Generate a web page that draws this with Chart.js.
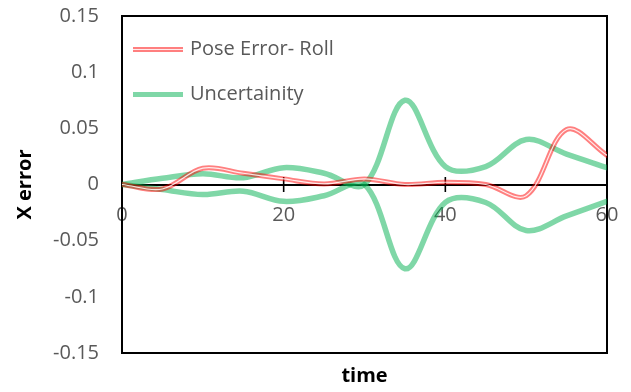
<!DOCTYPE html>
<html>
<head>
<meta charset="utf-8">
<script src="https://cdn.jsdelivr.net/npm/chart.js@4/dist/chart.umd.min.js"></script>
<style>
  html, body { margin: 0; padding: 0; background: #ffffff; }
  #wrap { width: 631px; height: 392px; }
</style>
</head>
<body>
<div id="wrap"><canvas id="chart" width="631" height="392"></canvas></div>
<script>
// Sample times and measured values
const timeSteps = [0, 5, 10, 15, 20, 25, 30, 35, 40, 45, 50, 55, 60];
const poseErrorRoll = [0, -0.004, 0.0145, 0.010, 0.005, 0.0005, 0.005, 0.000, 0.002, 0.000, -0.010, 0.049, 0.026];
const uncertaintyUpper = [0, 0.0055, 0.0095, 0.006, 0.015, 0.010, 0, 0.075, 0.016, 0.016, 0.040, 0.027, 0.015];
const uncertaintyLower = [0, -0.0045, -0.009, -0.006, -0.015, -0.010, 0, -0.075, -0.016, -0.016, -0.041, -0.028, -0.015];

const seriesNames = ['Pose Error- Roll', 'Uncertainity'];
const xTickLabels = ['0', '20', '40', '60'];
const yTickLabels = ['-0.15', '-0.1', '-0.05', '0', '0.05', '0.1', '0.15'];
const xTitle = 'time';
const yTitle = 'X error';

const FONT = '"Open Sans", "DejaVu Sans", sans-serif';
const TEXT_GREY = '#595959';
const RED = 'rgba(255, 0, 0, 0.5)';
const RED_CORE = 'rgba(255, 255, 255, 0.85)';
const GREEN = 'rgba(0, 176, 80, 0.5)';

const toPoints = (ys) => timeSteps.map((t, i) => ({ x: t, y: ys[i] }));

// Plot-area frame and the cross-shaped tick marks on the zero axis
const framePlugin = {
  id: 'frame',
  beforeDatasetsDraw(chart) {
    const { ctx, chartArea: a, scales } = chart;
    ctx.save();
    ctx.strokeStyle = '#000000';
    ctx.lineWidth = 2;
    ctx.strokeRect(a.left, a.top, a.right - a.left, a.bottom - a.top);
    const y0 = scales.y.getPixelForValue(0);
    ctx.lineWidth = 1.6;
    scales.x.ticks.forEach((tk) => {
      const px = scales.x.getPixelForValue(tk.value);
      ctx.beginPath();
      ctx.moveTo(px, y0 - 7.5);
      ctx.lineTo(px, y0 + 7.5);
      ctx.stroke();
    });
    ctx.restore();
  }
};

// Legend drawn inside the plot area, line samples followed by names
const legendPlugin = {
  id: 'insideLegend',
  afterDraw(chart) {
    const { ctx, chartArea: a } = chart;
    const x0 = a.left + 11, x1 = a.left + 61, tx = a.left + 68;
    const rows = [
      { y: a.top + 33.5, name: seriesNames[0], draw: (y) => {
        ctx.strokeStyle = RED; ctx.lineWidth = 5;
        ctx.beginPath(); ctx.moveTo(x0, y); ctx.lineTo(x1, y); ctx.stroke();
        ctx.strokeStyle = RED_CORE; ctx.lineWidth = 1.2;
        ctx.beginPath(); ctx.moveTo(x0, y); ctx.lineTo(x1, y); ctx.stroke();
      } },
      { y: a.top + 78.5, name: seriesNames[1], draw: (y) => {
        ctx.strokeStyle = GREEN; ctx.lineWidth = 5;
        ctx.beginPath(); ctx.moveTo(x0, y); ctx.lineTo(x1, y); ctx.stroke();
      } }
    ];
    ctx.save();
    rows.forEach((r) => {
      r.draw(r.y);
      ctx.fillStyle = TEXT_GREY;
      ctx.font = '20px ' + FONT;
      ctx.textBaseline = 'middle';
      ctx.textAlign = 'left';
      ctx.fillText(r.name, tx, r.y);
    });
    ctx.restore();
  }
};

const lineBase = { pointRadius: 0, pointHoverRadius: 0, fill: false, tension: 0.35, borderCapStyle: 'round', borderJoinStyle: 'round' };

new Chart(document.getElementById('chart'), {
  type: 'line',
  data: {
    datasets: [
      Object.assign({ label: seriesNames[0], data: toPoints(poseErrorRoll), borderColor: RED_CORE, borderWidth: 1.2 }, lineBase),
      Object.assign({ label: seriesNames[0], data: toPoints(poseErrorRoll), borderColor: RED, borderWidth: 5 }, lineBase),
      Object.assign({ label: seriesNames[1], data: toPoints(uncertaintyUpper), borderColor: GREEN, borderWidth: 5.5 }, lineBase),
      Object.assign({ label: seriesNames[1], data: toPoints(uncertaintyLower), borderColor: GREEN, borderWidth: 5.5 }, lineBase)
    ]
  },
  options: {
    responsive: false,
    animation: false,
    devicePixelRatio: 1,
    layout: { padding: { left: 0, right: 24, top: 16, bottom: 0 } },
    plugins: { legend: { display: false }, tooltip: { enabled: false } },
    scales: {
      x: {
        type: 'linear',
        position: { y: 0 },
        min: 0, max: 60,
        // hidden tick marks only provide the label offset below the axis
        grid: { display: false, drawTicks: true, tickLength: 19 },
        border: { display: true, color: '#000000', width: 2 },
        ticks: {
          stepSize: 20, padding: 0, color: TEXT_GREY, maxRotation: 0, autoSkip: false,
          font: { family: FONT, size: 20 },
          callback: (v, i) => xTickLabels[i]
        }
      },
      x2: {
        type: 'linear',
        position: 'bottom',
        min: 0, max: 60,
        grid: { display: false, drawTicks: false },
        border: { display: false },
        ticks: { display: false },
        title: { display: true, text: xTitle, color: '#000000', font: { family: FONT, size: 20, weight: 'bold' }, padding: { top: 0, bottom: 4 } },
        afterFit(s) { s.height = 39; }
      },
      y: {
        type: 'linear',
        position: 'left',
        min: -0.15, max: 0.15,
        grid: { display: false, drawTicks: true, tickLength: 23 },
        border: { display: false },
        ticks: {
          stepSize: 0.05, padding: 0, color: TEXT_GREY,
          font: { family: FONT, size: 20 },
          callback: (v, i) => yTickLabels[i]
        },
        title: { display: true, text: yTitle, color: '#000000', font: { family: FONT, size: 20, weight: 'bold' }, padding: { top: 13.5, bottom: 0 } },
        afterFit(s) { s.width = 122; }
      }
    }
  },
  plugins: [framePlugin, legendPlugin]
});
</script>
</body>
</html>
